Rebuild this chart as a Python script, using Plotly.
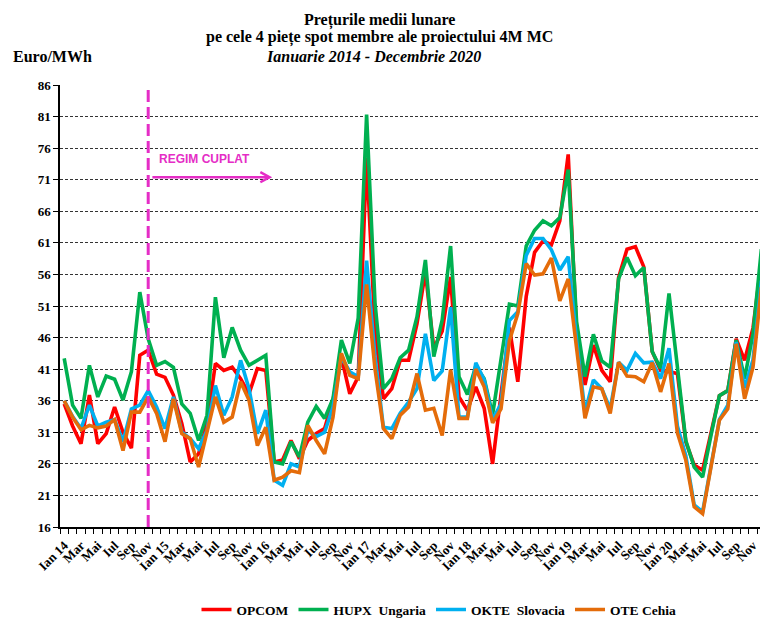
import plotly.graph_objects as go

# ---------------- data ----------------
months = ["Ian", "Feb", "Mar", "Apr", "Mai", "Iun", "Iul", "Aug", "Sep", "Oct", "Nov", "Dec"]
years = ["14", "15", "16", "17", "18", "19", "20"]

opcom = [35.5, 32.0, 29.2, 36.9, 29.2, 30.8, 35.0, 31.0, 28.5, 43.2, 44.0, 40.2,
         39.7, 36.9, 32.4, 26.3, 27.6, 32.4, 41.9, 40.8, 41.3, 39.5, 37.1, 41.1,
         40.8, 26.3, 26.6, 29.7, 26.8, 29.7, 30.8, 31.6, 36.1, 42.9, 37.1, 39.8,
         74.5, 47.0, 36.3, 37.9, 42.4, 42.4, 48.2, 56.4, 44.3, 47.0, 55.6, 36.6,
         34.5, 38.2, 34.8, 26.0, 37.0, 47.6, 39.0, 52.5, 59.5, 61.3, 60.7, 64.5,
         75.0, 47.0, 38.5, 44.8, 40.8, 39.0, 55.5, 60.0, 60.4, 57.2, 43.8, 40.8,
         40.6, 40.3, 29.5, 25.8, 25.0, 31.0, 36.8, 37.6, 45.8, 42.4, 47.5, 58.0]

hupx = [42.7, 35.3, 33.2, 41.6, 36.6, 39.9, 39.4, 36.1, 40.6, 53.2, 45.8, 41.6,
        42.2, 41.3, 35.5, 34.0, 29.7, 33.7, 52.4, 42.8, 47.6, 44.0, 41.6, 42.4,
        43.2, 26.3, 26.0, 29.5, 27.1, 32.6, 35.1, 33.2, 36.3, 45.6, 41.9, 49.1,
        81.3, 51.5, 37.9, 39.5, 42.8, 44.0, 49.3, 58.3, 43.0, 48.8, 60.5, 39.8,
        37.0, 41.5, 39.5, 33.8, 42.4, 51.3, 51.0, 60.5, 63.0, 64.5, 63.7, 65.0,
        72.6, 48.5, 39.8, 46.5, 42.3, 41.3, 55.3, 58.7, 55.8, 57.1, 43.8, 41.1,
        53.0, 41.3, 29.7, 25.5, 23.9, 30.5, 36.8, 37.6, 45.6, 39.5, 46.6, 60.0]

okte = [36.0, 33.5, 31.6, 35.3, 32.0, 32.6, 33.0, 29.5, 34.7, 35.3, 37.6, 35.0,
        31.6, 36.6, 31.0, 30.0, 28.4, 31.3, 38.4, 33.7, 36.6, 42.4, 37.9, 30.8,
        34.5, 23.4, 22.6, 26.0, 25.5, 31.3, 30.3, 31.0, 35.0, 42.9, 40.6, 39.8,
        58.2, 43.0, 31.8, 31.6, 34.0, 35.8, 37.9, 46.6, 39.2, 40.7, 50.8, 33.4,
        33.4, 42.0, 39.3, 33.0, 35.5, 48.7, 50.1, 59.0, 61.7, 61.7, 59.9, 56.7,
        58.8, 45.5, 34.2, 39.3, 37.9, 34.7, 42.1, 40.8, 43.5, 42.0, 42.1, 39.5,
        44.3, 32.0, 27.3, 19.5, 18.4, 25.8, 33.0, 35.3, 45.3, 38.0, 42.5, 55.0]

ote = [36.0, 33.4, 31.4, 32.1, 31.7, 32.0, 33.0, 28.1, 34.2, 34.2, 36.6, 34.0,
       29.5, 36.3, 30.8, 30.0, 25.5, 30.8, 36.6, 32.6, 33.4, 39.0, 36.1, 28.9,
       31.8, 23.4, 23.9, 24.9, 24.6, 32.1, 29.7, 27.6, 33.4, 43.5, 40.0, 39.5,
       54.4, 41.0, 31.6, 30.0, 33.7, 35.0, 40.3, 34.5, 34.8, 30.5, 40.9, 33.2,
       33.2, 41.0, 38.2, 32.5, 34.7, 45.5, 49.8, 57.7, 55.9, 56.1, 58.6, 51.8,
       55.3, 44.3, 33.2, 38.2, 37.9, 34.0, 42.1, 39.9, 39.8, 39.0, 42.0, 37.4,
       41.9, 30.9, 26.6, 19.2, 18.1, 25.5, 32.9, 34.7, 45.0, 36.3, 41.3, 54.0]

series_names = ["OPCOM", "HUPX\u00a0 Ungaria", "OKTE\u00a0 Slovacia", "OTE Cehia"]
series_values = [opcom, hupx, okte, ote]
series_colors = ["#FF0000", "#00B050", "#00B0F0", "#E46C0A"]

y_ticks = list(range(16, 87, 5))

# category labels
cat_labels = []
for y in years:
    for m in months:
        cat_labels.append(f"{m} {y}" if m == "Ian" else m)
x_idx = list(range(len(cat_labels)))
tick_idx = x_idx[::2]
tick_txt = cat_labels[::2]

FONT = "Liberation Serif"
MAGENTA = "#E52DC6"

fig = go.Figure()
for name, vals, col in zip(series_names, series_values, series_colors):
    fig.add_trace(go.Scatter(x=x_idx, y=vals, mode="lines", name=name,
                             line=dict(color=col, width=3.6), cliponaxis=True))

fig.update_layout(
    width=760, height=619,
    margin=dict(l=60, r=0, t=85, b=92, autoexpand=False),
    paper_bgcolor="white", plot_bgcolor="white",
    showlegend=True,
    legend=dict(orientation="h", x=0.195, xanchor="left", y=-0.187, yanchor="middle",
                font=dict(family=FONT, size=13.5, color="black", weight="bold"),
                traceorder="normal", itemwidth=30, tracegroupgap=0),
    font=dict(family=FONT, color="black"),
)

fig.update_xaxes(
    range=[-0.5, 82.833], tickmode="array", tickvals=tick_idx, ticktext=tick_txt,
    tickangle=-45, ticks="outside", ticklen=4, tickcolor="rgba(0,0,0,0)",
    tickfont=dict(family=FONT, size=13, color="black", weight="bold"),
    ticklabeloverflow="allow",
    showline=True, linecolor="black", linewidth=1.5, showgrid=False, zeroline=False,
    automargin=False,
    minor=dict(ticks="outside", tickmode="linear", tick0=-0.5, dtick=1,
               ticklen=5, tickcolor="black", tickwidth=1, showgrid=False),
)
fig.update_yaxes(
    range=[16, 86], tickmode="array", tickvals=y_ticks,
    ticks="outside", ticklen=5, tickcolor="black",
    tickfont=dict(family=FONT, size=13, color="black", weight="bold"),
    showline=True, linecolor="black", linewidth=1.5, zeroline=False, automargin=False,
    showgrid=True, gridcolor="#333333", gridwidth=1, griddash="3px,2px",
)

# coupling start (Nov 2014) dashed vertical line
fig.add_shape(type="line", xref="x", yref="y", x0=10, x1=10, y0=16, y1=86,
              line=dict(color=MAGENTA, width=3, dash="12px,5px"))
# arrow
fig.add_shape(type="line", xref="x", yref="y", x0=10.5, x1=24.45, y0=71.4, y1=71.4,
              line=dict(color=MAGENTA, width=2.5))
fig.add_shape(type="path", xref="x", yref="y",
              path="M 23.35 72.2 L 24.45 71.4 L 23.35 70.6",
              line=dict(color=MAGENTA, width=2.5))
fig.add_annotation(x=11.0, y=74.3, xref="x", yref="y", text="<b>REGIM CUPLAT</b>",
                   showarrow=False, xanchor="left", yanchor="middle",
                   font=dict(family="Liberation Sans", size=12, color=MAGENTA))

# titles
def py(px):
    return (527 - px) / 442.0

def pxx(px):
    return (px - 60) / 700.0

fig.add_annotation(x=pxx(379), y=py(20), xref="paper", yref="paper",
                   text="<b>Prețurile medii lunare</b>", showarrow=False,
                   xanchor="center", yanchor="middle", font=dict(family=FONT, size=16))
fig.add_annotation(x=pxx(379), y=py(38), xref="paper", yref="paper",
                   text="<b>pe cele 4 piețe spot membre ale proiectului 4M MC</b>", showarrow=False,
                   xanchor="center", yanchor="middle", font=dict(family=FONT, size=16))
fig.add_annotation(x=pxx(373), y=py(56), xref="paper", yref="paper",
                   text="<b><i>Ianuarie 2014 - Decembrie 2020</i></b>", showarrow=False,
                   xanchor="center", yanchor="middle", font=dict(family=FONT, size=16))
fig.add_annotation(x=pxx(11), y=py(56), xref="paper", yref="paper",
                   text="<b>Euro/MWh</b>", showarrow=False,
                   xanchor="left", yanchor="middle", font=dict(family=FONT, size=16))

fig.write_html("out.html", config={"displayModeBar": False},
               post_script="document.body.style.margin='0';document.body.style.overflow='hidden';")
